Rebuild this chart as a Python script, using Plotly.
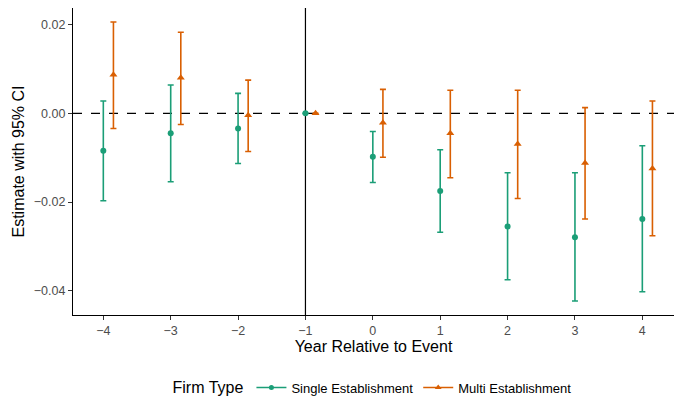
import plotly.graph_objects as go

years = [-4, -3, -2, -1, 0, 1, 2, 3, 4]
tick_labels = ["−4", "−3", "−2", "−1", "0", "1", "2", "3", "4"]

single_est = [-0.0084, -0.0045, -0.0034, 0.0, -0.0098, -0.0175, -0.0255, -0.0279, -0.0238]
single_hi = [0.0028, 0.0064, 0.0045, 0.0, -0.0041, -0.0082, -0.0134, -0.0134, -0.0073]
single_lo = [-0.0197, -0.0154, -0.0113, 0.0, -0.0156, -0.0268, -0.0375, -0.0423, -0.0402]

multi_est = [0.0087, 0.0080, -0.0004, 0.0, -0.0021, -0.0045, -0.0069, -0.0112, -0.0124]
multi_hi = [0.0206, 0.0183, 0.0075, 0.0, 0.0054, 0.0052, 0.0052, 0.0013, 0.0028]
multi_lo = [-0.0034, -0.0025, -0.0086, 0.0, -0.0099, -0.0145, -0.0192, -0.0238, -0.0276]

dodge = 0.15
green = "#1B9E77"
orange = "#D95F02"

fig = go.Figure()

def add_series(xs, est, hi, lo, color, symbol, size, name):
    fig.add_trace(go.Scatter(
        x=xs, y=est, mode="markers",
        marker=dict(color=color, symbol=symbol, size=size),
        error_y=dict(type="data", symmetric=False,
                     array=[h - e for h, e in zip(hi, est)],
                     arrayminus=[e - l for e, l in zip(est, lo)],
                     color=color, thickness=1.6, width=3),
        showlegend=False, name=name))
    fig.add_trace(go.Scatter(
        x=[None], y=[None], mode="lines+markers",
        line=dict(color=color, width=1.6),
        marker=dict(color=color, symbol=symbol, size=size - 1),
        name=name, showlegend=True))

add_series(years, single_est, single_hi, single_lo, green, "circle", 6, "Single Establishment")
add_series([y + dodge for y in years], multi_est, multi_hi, multi_lo, orange, "triangle-up", 7, "Multi Establishment")

fig.add_shape(type="line", xref="paper", yref="y", x0=0, x1=1, y0=0, y1=0,
              line=dict(color="black", width=1.2, dash="dash"), layer="below")
fig.add_shape(type="line", xref="x", yref="paper", x0=-1, x1=-1, y0=0, y1=1,
              line=dict(color="black", width=1.2), layer="below")

fig.update_layout(
    width=674, height=404,
    margin=dict(l=73, r=0, t=8, b=85),
    plot_bgcolor="white", paper_bgcolor="white",
    font=dict(family="Liberation Sans, Arial, sans-serif", color="black"),
    xaxis=dict(range=[-4.45, 4.47], tickvals=years, ticktext=tick_labels,
               showgrid=False, zeroline=False, showline=True, linecolor="black", linewidth=1.2,
               ticks="outside", ticklen=4, tickcolor="#333333",
               tickfont=dict(size=12.5, color="#4D4D4D"),
               title=dict(text="Year Relative to Event", font=dict(size=16), standoff=2)),
    yaxis=dict(range=[-0.04545, 0.02375], tickvals=[-0.04, -0.02, 0.0, 0.02], tickformat=".2f",
               showgrid=False, zeroline=False, showline=True, linecolor="black", linewidth=1.2,
               ticks="outside", ticklen=4, tickcolor="#333333",
               tickfont=dict(size=12.5, color="#4D4D4D"),
               title=dict(text="Estimate with 95% CI", font=dict(size=16), standoff=5)),
    legend=dict(orientation="h", x=0.5, xanchor="center", y=-0.238, yanchor="middle",
                title=dict(text="Firm Type", font=dict(size=16), side="left"),
                font=dict(size=13), itemwidth=30, tracegroupgap=0),
)

fig.write_html("out.html")
